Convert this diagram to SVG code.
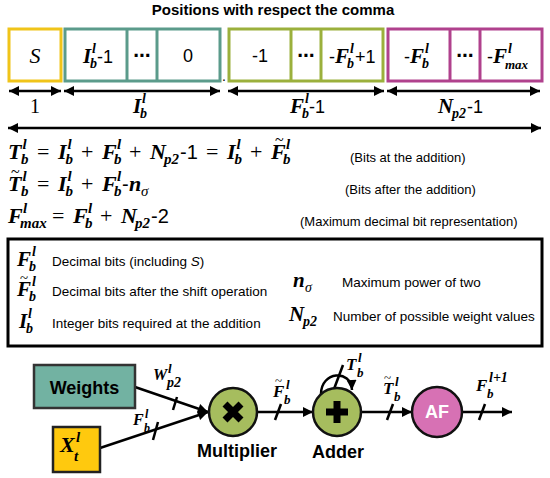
<svg xmlns="http://www.w3.org/2000/svg" width="550" height="478" viewBox="0 0 550 478">
<style>
text{font-family:"Liberation Sans",Arial,sans-serif;fill:#000}
.title{font-weight:bold;font-size:15px}
.m{font-family:"Liberation Serif","Times New Roman",serif;font-weight:bold;font-style:italic}
.s{font-family:"Liberation Serif","Times New Roman",serif;font-style:italic;font-weight:bold}
.si{font-family:"Liberation Serif","Times New Roman",serif;font-style:italic}
.op{font-family:"Liberation Serif","Times New Roman",serif;font-style:normal;font-weight:normal}
.sa{font-family:"Liberation Sans",Arial,sans-serif;font-style:normal;font-weight:normal}
.dots{font-family:"DejaVu Sans",sans-serif;font-weight:bold;font-size:17px}
.lbl{font-size:13px}
.leg{font-size:13.5px}
.bx{fill:#fff;stroke-width:3}
.ln{stroke:#000;stroke-width:2.5;fill:none}
.da{marker-start:url(#ah);marker-end:url(#ah)}
.ar{marker-end:url(#ah)}
.cir{stroke:#111;stroke-width:2.5}
.node{font-weight:bold;font-size:18px}
</style>
<defs>
<marker id="ah" viewBox="0 0 10 10" refX="10" refY="5" markerUnits="userSpaceOnUse" markerWidth="11" markerHeight="10" orient="auto-start-reverse">
<path d="M0,0 L10,5 L0,10 z" fill="#000"/>
</marker>
</defs>

<text class="title" x="273" y="15" text-anchor="middle">Positions with respect the comma</text>

<!-- top bit-position boxes -->
<g id="box-sign">
<rect class="bx" x="9" y="29" width="52" height="52" stroke="#f0c419"/>
<text class="si" x="35" y="63" font-size="22" text-anchor="middle">S</text>
</g>
<g id="box-integer">
<rect class="bx" x="65" y="29" width="155" height="52" stroke="#5b9b8b"/>
<line x1="127" y1="29" x2="127" y2="81" stroke="#5b9b8b" stroke-width="3"/>
<line x1="157" y1="29" x2="157" y2="81" stroke="#5b9b8b" stroke-width="3"/>
<text font-size="21"><tspan class="m" x="83" y="63">I</tspan><tspan class="s" font-size="14" x="92" y="53">l</tspan><tspan class="s" font-size="14" x="90" y="68">b</tspan><tspan class="sa" font-size="18" x="97" y="63">-1</tspan></text>
<text class="dots" x="142" y="61" text-anchor="middle">⋯</text>
<text x="188" y="62" font-size="18" text-anchor="middle">0</text>
</g>
<text x="222" y="81" font-size="14">.</text>
<g id="box-fraction">
<rect class="bx" x="229" y="29" width="154" height="52" stroke="#9bb03c"/>
<line x1="291" y1="29" x2="291" y2="81" stroke="#9bb03c" stroke-width="3"/>
<line x1="321" y1="29" x2="321" y2="81" stroke="#9bb03c" stroke-width="3"/>
<text x="260" y="62" font-size="18" text-anchor="middle">-1</text>
<text class="dots" x="306" y="61" text-anchor="middle">⋯</text>
<text font-size="21"><tspan class="sa" font-size="18" x="329" y="63">-</tspan><tspan class="m" x="335" y="63">F</tspan><tspan class="s" font-size="14" x="350" y="53">l</tspan><tspan class="s" font-size="14" x="347" y="68">b</tspan><tspan class="sa" font-size="18" x="355" y="63">+1</tspan></text>
</g>
<g id="box-weight">
<rect class="bx" x="388" y="29" width="154" height="52" stroke="#b0418d"/>
<line x1="450" y1="29" x2="450" y2="81" stroke="#b0418d" stroke-width="3"/>
<line x1="480" y1="29" x2="480" y2="81" stroke="#b0418d" stroke-width="3"/>
<text font-size="21"><tspan class="sa" font-size="18" x="404" y="63">-</tspan><tspan class="m" x="410" y="63">F</tspan><tspan class="s" font-size="14" x="425" y="53">l</tspan><tspan class="s" font-size="14" x="422" y="68">b</tspan></text>
<text class="dots" x="465" y="61" text-anchor="middle">⋯</text>
<text font-size="21"><tspan class="sa" font-size="18" x="487" y="63">-</tspan><tspan class="m" x="493" y="63">F</tspan><tspan class="s" font-size="14" x="508" y="53">l</tspan><tspan class="s" font-size="13" x="505" y="69">max</tspan></text>
</g>

<!-- width arrows -->
<g id="connectors-top">
<line class="ln da" x1="9" y1="91" x2="61" y2="91"/>
<line class="ln da" x1="64" y1="91" x2="220" y2="91"/>
<line class="ln da" x1="228" y1="91" x2="384" y2="91"/>
<line class="ln da" x1="387" y1="91" x2="540" y2="91"/>
<line class="ln da" x1="8" y1="128" x2="541" y2="128"/>
</g>
<text class="op" x="35" y="113" font-size="20" text-anchor="middle">1</text>
<text font-size="21"><tspan class="m" x="133" y="113">I</tspan><tspan class="s" font-size="14" x="142" y="103">l</tspan><tspan class="s" font-size="14" x="140" y="118">b</tspan></text>
<text font-size="21"><tspan class="m" x="290" y="113">F</tspan><tspan class="s" font-size="14" x="305" y="103">l</tspan><tspan class="s" font-size="14" x="302" y="118">b</tspan><tspan class="sa" font-size="18" x="309" y="113">-1</tspan></text>
<text font-size="21"><tspan class="m" x="438" y="113">N</tspan><tspan class="s" font-size="14" x="452" y="118">p2</tspan><tspan class="sa" font-size="18" x="467" y="113">-1</tspan></text>

<!-- equations -->
<g id="equations">
<text font-size="22"><tspan class="m" x="8" y="159">T</tspan><tspan class="s" font-size="15" x="22.5" y="149">l</tspan><tspan class="s" font-size="15" x="21" y="164">b</tspan><tspan class="op" x="37" y="159">=</tspan><tspan class="m" x="58" y="159">I</tspan><tspan class="s" font-size="15" x="67.5" y="149">l</tspan><tspan class="s" font-size="15" x="65.5" y="164">b</tspan><tspan class="op" x="81" y="159">+</tspan><tspan class="m" x="102" y="159">F</tspan><tspan class="s" font-size="15" x="117" y="149">l</tspan><tspan class="s" font-size="15" x="114" y="164">b</tspan><tspan class="op" x="129" y="159">+</tspan><tspan class="m" x="150" y="159">N</tspan><tspan class="s" font-size="15" x="164" y="164">p2</tspan><tspan class="sa" font-size="20" x="180" y="159">-1</tspan><tspan class="op" x="206" y="159">=</tspan><tspan class="m" x="227" y="159">I</tspan><tspan class="s" font-size="15" x="236.5" y="149">l</tspan><tspan class="s" font-size="15" x="234.5" y="164">b</tspan><tspan class="op" x="250" y="159">+</tspan><tspan class="m" x="271" y="159">F</tspan><tspan class="s" font-size="15" x="286" y="149">l</tspan><tspan class="s" font-size="15" x="283" y="164">b</tspan><tspan class="op" font-size="16" x="275" y="145">~</tspan></text>
<text class="lbl" x="350" y="162">(Bits at the addition)</text>

<text font-size="22"><tspan class="m" x="8" y="191">T</tspan><tspan class="s" font-size="15" x="22.5" y="181">l</tspan><tspan class="s" font-size="15" x="21" y="196">b</tspan><tspan class="op" x="37" y="191">=</tspan><tspan class="m" x="58" y="191">I</tspan><tspan class="s" font-size="15" x="67.5" y="181">l</tspan><tspan class="s" font-size="15" x="65.5" y="196">b</tspan><tspan class="op" x="81" y="191">+</tspan><tspan class="m" x="102" y="191">F</tspan><tspan class="s" font-size="15" x="117" y="181">l</tspan><tspan class="s" font-size="15" x="114" y="196">b</tspan><tspan class="sa" font-size="20" x="122" y="191">-</tspan><tspan class="m" x="129" y="191">n</tspan><tspan class="si" font-size="15" x="141" y="196">σ</tspan><tspan class="op" font-size="16" x="11" y="177">~</tspan></text>
<text class="lbl" x="345" y="194">(Bits after the addition)</text>

<text font-size="22"><tspan class="m" x="8" y="223">F</tspan><tspan class="s" font-size="15" x="23" y="213">l</tspan><tspan class="s" font-size="15" x="20" y="228">max</tspan><tspan class="op" x="52" y="223">=</tspan><tspan class="m" x="73" y="223">F</tspan><tspan class="s" font-size="15" x="88" y="213">l</tspan><tspan class="s" font-size="15" x="85" y="228">b</tspan><tspan class="op" x="100" y="223">+</tspan><tspan class="m" x="121" y="223">N</tspan><tspan class="s" font-size="15" x="135" y="228">p2</tspan><tspan class="sa" font-size="20" x="151" y="223">-2</tspan></text>
<text class="lbl" x="300" y="226">(Maximum decimal bit representation)</text>
</g>

<!-- legend -->
<g id="legend">
<rect x="8" y="239" width="534" height="107" fill="#fff" stroke="#000" stroke-width="3"/>
<text font-size="21"><tspan class="m" x="17" y="266">F</tspan><tspan class="s" font-size="14" x="32" y="256">l</tspan><tspan class="s" font-size="14" x="29" y="271">b</tspan></text>
<text class="leg" x="52" y="266">Decimal bits (including <tspan font-style="italic">S</tspan>)</text>
<text font-size="21"><tspan class="m" x="17" y="296">F</tspan><tspan class="s" font-size="14" x="32" y="286">l</tspan><tspan class="s" font-size="14" x="29" y="301">b</tspan><tspan class="op" font-size="15" x="20" y="283">~</tspan></text>
<text class="leg" x="52" y="296">Decimal bits after the shift operation</text>
<text font-size="21"><tspan class="m" x="19" y="328">I</tspan><tspan class="s" font-size="14" x="28" y="318">l</tspan><tspan class="s" font-size="14" x="26" y="333">b</tspan></text>
<text class="leg" x="52" y="328">Integer bits required at the addition</text>
<text font-size="21"><tspan class="m" x="293" y="287">n</tspan><tspan class="si" font-size="14" x="305" y="292">σ</tspan></text>
<text class="leg" x="342" y="287">Maximum power of two</text>
<text font-size="21"><tspan class="m" x="289" y="321">N</tspan><tspan class="s" font-size="14" x="303" y="326">p2</tspan></text>
<text class="leg" x="333" y="321">Number of possible weight values</text>
</g>

<!-- data path -->
<g id="connectors">
<line class="ln ar" x1="135" y1="387" x2="208" y2="412"/>
<line class="ln ar" x1="100" y1="448" x2="208" y2="412"/>
<line class="ln" x1="173" y1="410" x2="177" y2="397"/>
<line class="ln" x1="153" y1="440" x2="158" y2="422"/>
<line class="ln ar" x1="257" y1="412" x2="313" y2="412"/>
<line class="ln" x1="275" y1="420" x2="281" y2="404"/>
<path class="ln ar" d="M321,394 C321,371 351,369 352,390"/>
<line class="ln" x1="334" y1="389" x2="343" y2="365"/>
<line class="ln ar" x1="361" y1="412" x2="412" y2="412"/>
<line class="ln" x1="387" y1="420" x2="393" y2="404"/>
<line class="ln ar" x1="462" y1="412" x2="512" y2="412"/>
<line class="ln" x1="479" y1="420" x2="485" y2="404"/>
<text font-size="16"><tspan class="m" x="153" y="380">W</tspan><tspan class="s" font-size="13" x="168" y="373">l</tspan><tspan class="s" font-size="14" x="167" y="387">p2</tspan></text>
<text font-size="16"><tspan class="m" x="133" y="425">F</tspan><tspan class="s" font-size="12" x="145" y="418">l</tspan><tspan class="s" font-size="12" x="144" y="432">b</tspan></text>
<text font-size="17"><tspan class="m" x="273" y="397">F</tspan><tspan class="s" font-size="13" x="286" y="389">l</tspan><tspan class="s" font-size="13" x="284" y="404">b</tspan><tspan class="op" font-size="13" x="275" y="385">~</tspan></text>
<text font-size="17"><tspan class="m" x="346" y="370">T</tspan><tspan class="s" font-size="13" x="358" y="362">l</tspan><tspan class="s" font-size="13" x="357" y="377">b</tspan></text>
<text font-size="17"><tspan class="m" x="383" y="394">T</tspan><tspan class="s" font-size="13" x="395" y="386">l</tspan><tspan class="s" font-size="13" x="394" y="401">b</tspan><tspan class="op" font-size="13" x="384" y="382">~</tspan></text>
<text font-size="17"><tspan class="m" x="476" y="391">F</tspan><tspan class="s" font-size="14" x="489" y="382">l+1</tspan><tspan class="s" font-size="13" x="487" y="398">b</tspan></text>
</g>

<g id="node-weights">
<rect x="34" y="365" width="101" height="43" fill="#72b2a2" stroke="#333" stroke-width="2.5"/>
<text class="node" x="84.5" y="394" font-size="20" text-anchor="middle">Weights</text>
</g>
<g id="node-input">
<rect x="53" y="427" width="47" height="45" fill="#ffc90e" stroke="#222" stroke-width="2.5"/>
<text font-size="22"><tspan class="m" x="60" y="452">X</tspan><tspan class="s" font-size="15" x="76" y="442">l</tspan><tspan class="s" font-size="15" x="74" y="461">t</tspan></text>
</g>
<g id="node-multiplier">
<circle class="cir" cx="233" cy="412" r="24" fill="#a6bd5e"/>
<path d="M225,404 L241,420 M241,404 L225,420" stroke="#000" stroke-width="7"/>
<text class="node" x="237" y="457" text-anchor="middle">Multiplier</text>
</g>
<g id="node-adder">
<circle class="cir" cx="337" cy="412" r="24" fill="#a6bd5e"/>
<path d="M326,408.5 H348 V415.5 H326 Z M333.5,401 H340.5 V423 H333.5 Z" fill="#000"/>
<text class="node" x="338" y="458" text-anchor="middle">Adder</text>
</g>
<g id="node-af">
<circle class="cir" cx="437" cy="412" r="25" fill="#d771b4"/>
<text class="node" x="437" y="418" style="fill:#fff" text-anchor="middle">AF</text>
</g>
</svg>
